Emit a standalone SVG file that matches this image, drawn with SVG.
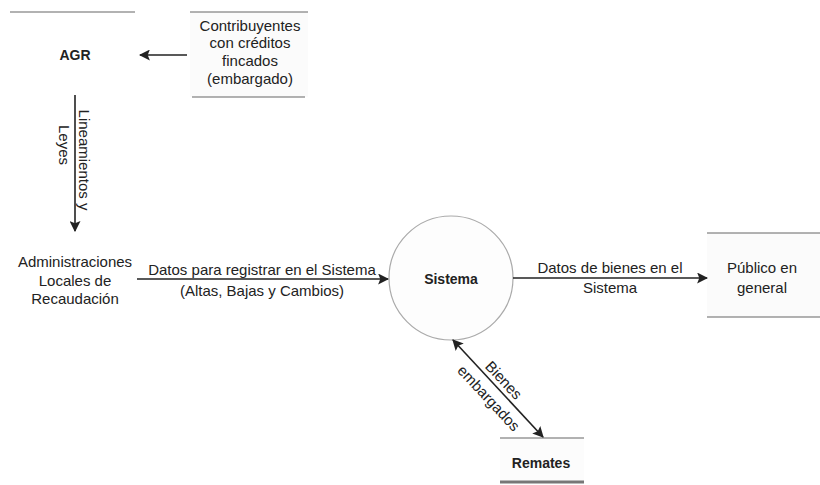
<svg xmlns="http://www.w3.org/2000/svg" width="820" height="485" viewBox="0 0 820 485">
<style>
text{font-family:"Liberation Sans",Arial,sans-serif;font-size:15px;fill:#222;text-anchor:middle;dominant-baseline:central}
.b{font-weight:bold;font-size:14px}
.ln{stroke:#666;stroke-width:1.2}
.c{stroke:#222;stroke-width:1.6;fill:none}
</style>
<defs>
<marker id="ah" viewBox="0 0 10 10" refX="9" refY="5" markerWidth="11" markerHeight="11" markerUnits="userSpaceOnUse" orient="auto-start-reverse">
<path d="M0,0 L10,5 L0,10 L2,5 Z" fill="#222"/>
</marker>
</defs>
<rect width="820" height="485" fill="#fff"/>
<g id="agr">
<line class="ln" x1="10" y1="12" x2="135" y2="12"/>
<text class="b" x="75" y="55">AGR</text>
</g>
<g id="contribuyentes">
<rect x="190" y="12" width="118" height="85" fill="#fbfbfb"/>
<line class="ln" x1="190" y1="12" x2="308" y2="12"/>
<line class="ln" x1="192" y1="97" x2="305" y2="97"/>
<text x="250" y="25">Contribuyentes</text>
<text x="250" y="42">con créditos</text>
<text x="250" y="60">fincados</text>
<text x="250" y="78">(embargado)</text>
</g>
<g id="administraciones">
<text x="75" y="261">Administraciones</text>
<text x="75" y="280">Locales de</text>
<text x="75" y="298">Recaudación</text>
</g>
<g id="sistema">
<circle cx="451" cy="278" r="62" fill="#fdfdfd" stroke="#aaa" stroke-width="1.2"/>
<text class="b" x="451" y="279">Sistema</text>
</g>
<g id="publico">
<rect x="707" y="233" width="113" height="84" fill="#fbfbfb"/>
<line class="ln" x1="707" y1="233" x2="820" y2="233"/>
<line class="ln" x1="707" y1="317" x2="820" y2="317"/>
<text x="762" y="267">Público en</text>
<text x="762" y="287">general</text>
</g>
<g id="remates">
<rect x="500" y="438" width="84" height="44" fill="#fcfcfc"/>
<line class="ln" x1="500" y1="438" x2="584" y2="438"/>
<line x1="500" y1="482" x2="584" y2="482" stroke="#777" stroke-width="3"/>
<text class="b" x="541" y="463">Remates</text>
</g>
<g id="connectors">
<line class="c" x1="187" y1="55" x2="140" y2="55" marker-end="url(#ah)"/>
<line class="c" x1="75" y1="95" x2="75" y2="231" marker-end="url(#ah)"/>
<text transform="translate(84,160) rotate(90)">Lineamientos y</text>
<text transform="translate(64,145) rotate(90)">Leyes</text>
<line class="c" x1="137" y1="279" x2="388" y2="279" marker-end="url(#ah)"/>
<text x="262" y="269">Datos para registrar en el Sistema</text>
<text x="262" y="290">(Altas, Bajas y Cambios)</text>
<line class="c" x1="513" y1="278" x2="707" y2="278" marker-end="url(#ah)"/>
<text x="610" y="267">Datos de bienes en el</text>
<text x="610" y="287">Sistema</text>
<line class="c" x1="453" y1="340" x2="543" y2="437" marker-start="url(#ah)" marker-end="url(#ah)"/>
<text transform="translate(504,380) rotate(47)">Bienes</text>
<text transform="translate(489,398) rotate(47)">embargados</text>
</g>
</svg>
